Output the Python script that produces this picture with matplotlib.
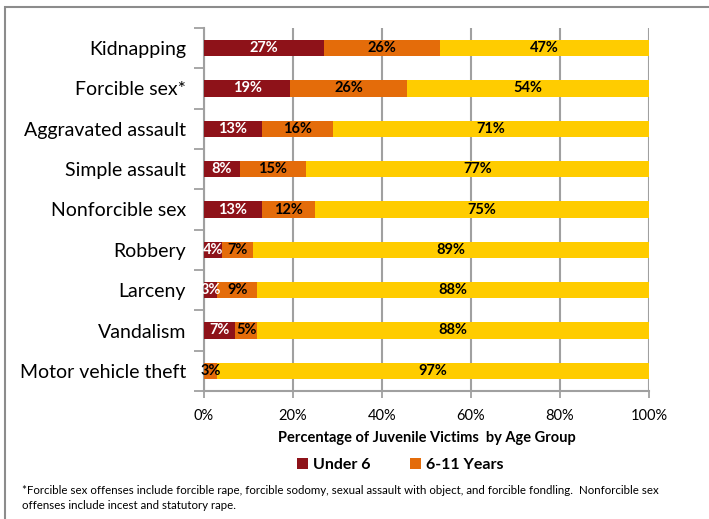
import matplotlib.pyplot as plt
from matplotlib.patches import Rectangle
from matplotlib.ticker import FixedLocator, PercentFormatter

plt.rcParams['font.family'] = ['Lato', 'DejaVu Sans']

offenses = ['Kidnapping', 'Forcible sex*', 'Aggravated assault', 'Simple assault',
            'Nonforcible sex', 'Robbery', 'Larceny', 'Vandalism', 'Motor vehicle theft']
under6 = [27, 19.4, 13, 8, 13, 4, 3, 7, 0]
age6_11 = [26, 26.3, 16, 15, 12, 7, 9, 5, 3]
age12_17 = [47, 54.3, 71, 77, 75, 89, 88, 88, 97]

red = '#8E1219'
orange = '#E46C0A'
yellow = '#FFCC00'
grid_gray = '#A0A0A0'

fig = plt.figure(figsize=(7.09, 5.19), dpi=100)
ax = fig.add_axes([204 / 709, 1 - 391 / 519, 445 / 709, 363 / 519])

ypos = list(range(len(offenses)))
left = [0] * len(offenses)
series = [(under6, red, 'white', 'Under 6'),
          (age6_11, orange, 'black', '6-11 Years'),
          (age12_17, yellow, 'black', None)]
for vals, col, txtcol, name in series:
    ax.barh(ypos, vals, left=left, height=0.4, color=col, label=name, zorder=3)
    for y, v, l in zip(ypos, vals, left):
        if v > 0:
            ax.text(l + v / 2, y, f'{round(v)}%', ha='center', va='center', color=txtcol,
                    fontsize=10.5, fontweight='bold', zorder=4)
    left = [a + b for a, b in zip(left, vals)]

ax.set_xlim(0, 100)
ax.set_ylim(len(offenses) - 0.5, -0.5)
ax.set_yticks(ypos)
ax.set_yticklabels(offenses, fontsize=14)
ax.yaxis.set_minor_locator(FixedLocator([i - 0.5 for i in range(len(offenses) + 1)]))
ax.tick_params(axis='y', which='major', length=0, pad=13)
ax.tick_params(axis='y', which='minor', length=7, width=1.3, color=grid_gray)

ax.set_xticks(range(0, 101, 20))
ax.xaxis.set_major_formatter(PercentFormatter(decimals=0))
ax.tick_params(axis='x', length=5, width=1.3, color=grid_gray, labelsize=10.5, pad=8)
ax.grid(axis='x', color=grid_gray, linewidth=1.5, zorder=0)

for side in ['top', 'right']:
    ax.spines[side].set_visible(False)
for side in ['left', 'bottom']:
    ax.spines[side].set_color(grid_gray)
    ax.spines[side].set_linewidth(1.5)

ax.set_xlabel('Percentage of Juvenile Victims  by Age Group', fontsize=10.5,
              fontweight='bold', labelpad=6)

handles, labels = ax.get_legend_handles_labels()
fig.legend(handles[:2], labels[:2], loc='center', bbox_to_anchor=(400 / 709, 1 - 465 / 519),
           ncol=2, frameon=False, prop={'size': 11.5, 'weight': 'bold'},
           handlelength=0.7, handleheight=0.7, handletextpad=0.3, columnspacing=2.5)

fig.text(22 / 709, 1 - 498 / 519,
         '*Forcible sex offenses include forcible rape, forcible sodomy, sexual assault with object, '
         'and forcible fondling.  Nonforcible sex\noffenses include incest and statutory rape.',
         fontsize=8.3, va='center', ha='left', linespacing=1.5)

# outer frame running off the right and bottom edges
fig.patches.append(Rectangle((5 / 709, -0.1), 1.2, 1.1 - 7.5 / 519,
                             transform=fig.transFigure, fill=False,
                             edgecolor='#8C8C8C', linewidth=1.5))

fig.savefig('out.png', dpi=100)
